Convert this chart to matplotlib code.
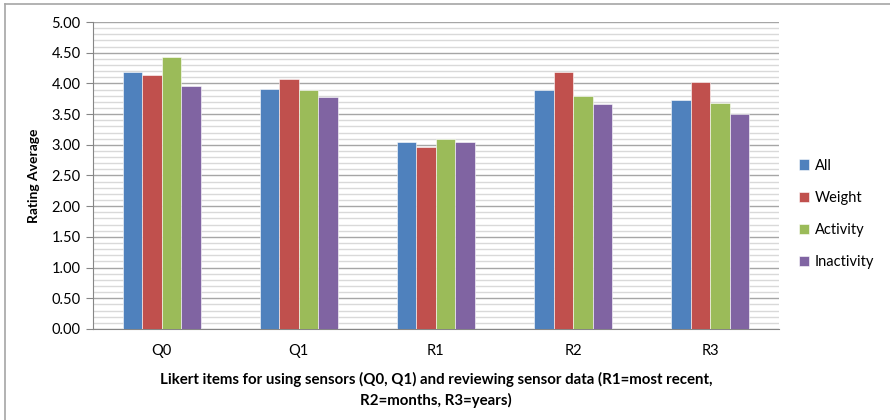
import numpy as np
import matplotlib.pyplot as plt
from matplotlib.ticker import MultipleLocator
from matplotlib.lines import Line2D

plt.rcParams['font.family'] = ['Lato', 'DejaVu Sans']

categories = ['Q0', 'Q1', 'R1', 'R2', 'R3']
series_names = ['All', 'Weight', 'Activity', 'Inactivity']
all_vals = [4.18, 3.91, 3.04, 3.89, 3.73]
weight_vals = [4.14, 4.07, 2.96, 4.19, 4.02]
activity_vals = [4.43, 3.89, 3.09, 3.80, 3.68]
inactivity_vals = [3.96, 3.78, 3.05, 3.66, 3.50]
colors = ['#4F81BD', '#C0504D', '#9BBB59', '#8064A2']

fig = plt.figure(figsize=(8.9, 4.2), dpi=100)
ax = fig.add_axes([0.1045, 0.2167, 0.7705, 0.7309])

x = np.arange(len(categories))
bar_w = 0.142
series = [all_vals, weight_vals, activity_vals, inactivity_vals]
for i, (vals, name, col) in enumerate(zip(series, series_names, colors)):
    ax.bar(x + (i - 1.5) * bar_w, vals, width=bar_w, color=col, label=name,
           edgecolor='white', linewidth=0.4, zorder=3)

ax.set_xlim(-0.5, len(categories) - 0.5)
ax.set_ylim(0, 5)
ax.yaxis.set_major_locator(MultipleLocator(0.5))
ax.yaxis.set_minor_locator(MultipleLocator(0.1))
ax.yaxis.set_major_formatter(plt.FuncFormatter(lambda v, p: f'{v:.2f}'))
ax.grid(axis='y', which='minor', color='#d9d9d9', linewidth=1.0, zorder=0)
ax.grid(axis='y', which='major', color='#a6a6a6', linewidth=1.0, zorder=1)
ax.set_axisbelow(True)

ax.set_xticks(x)
ax.set_xticklabels(categories)
ax.tick_params(axis='x', length=0, pad=11, labelsize=10.5)
ax.tick_params(axis='y', which='major', length=5, color='#868686', labelsize=10.5, pad=4)
ax.tick_params(axis='y', which='minor', length=0)

for s in ['top', 'right']:
    ax.spines[s].set_visible(False)
for s in ['left', 'bottom']:
    ax.spines[s].set_color('#868686')

ax.set_ylabel('Rating Average', fontsize=10, fontweight='bold', labelpad=8)
ax.set_xlabel('Likert items for using sensors (Q0, Q1) and reviewing sensor data (R1=most recent,\nR2=months, R3=years)',
              fontsize=10.8, fontweight='bold', labelpad=10, linespacing=1.45)

ax.legend(loc='center left', bbox_to_anchor=(1.01, 0.375), frameon=False,
          fontsize=10.5, handlelength=0.7, handleheight=0.7, labelspacing=1.25,
          handletextpad=0.4)

# outer chart frame
fig.add_artist(Line2D([0.0056, 1.0], [0.990, 0.990], color='#a6a6a6', linewidth=1.2,
                      transform=fig.transFigure))
fig.add_artist(Line2D([0.0056, 0.0056], [0.0, 0.990], color='#a6a6a6', linewidth=1.2,
                      transform=fig.transFigure))

fig.savefig('out.png', dpi=100)
